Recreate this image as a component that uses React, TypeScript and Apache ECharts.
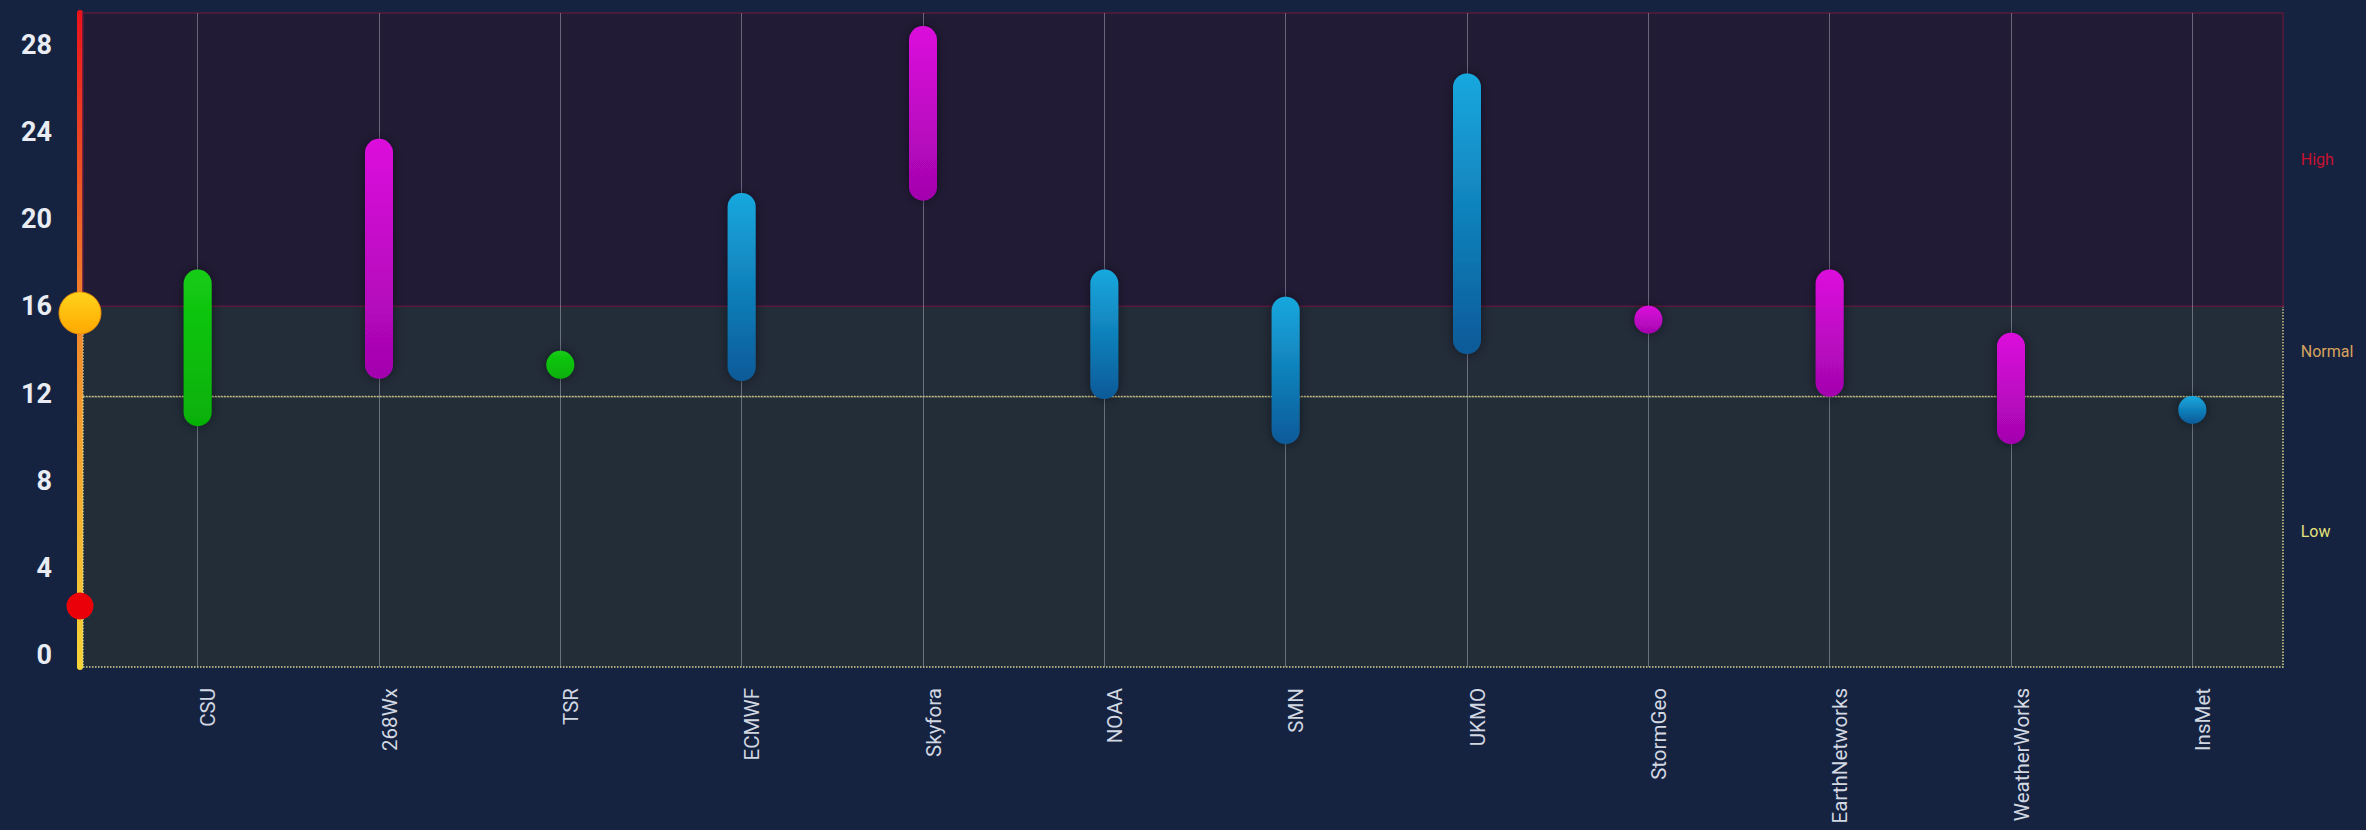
import React, { useEffect, useRef } from "react";
import * as echarts from "echarts";

// ---- data ----
const categories = [
  "CSU", "268Wx", "TSR", "ECMWF", "Skyfora", "NOAA",
  "SMN", "UKMO", "StormGeo", "EarthNetworks", "WeatherWorks", "InsMet",
];
const lowValues = [11.3, 13.4, 13.4, 13.3, 21.3, 12.5, 10.5, 14.5, 15.4, 12.6, 10.5, 11.4];
const highValues = [17.0, 22.8, 13.4, 20.4, 27.8, 17.0, 15.8, 25.7, 15.4, 17.0, 14.2, 11.4];
const sourceGroups = [
  "green", "magenta", "green", "blue", "magenta", "blue",
  "blue", "blue", "magenta", "magenta", "magenta", "blue",
];
const indicatorValues = [15.7, 2.7]; // yellow (current), red (prior)
const bandNames = ["Low", "Normal", "High"];
const bandFrom = [0, 12, 16];
const bandTo = [12, 16, 29];
const yMin = 0;
const yMax = 29;
const tickMin = 0;
const tickMax = 28;
const tickStep = 4;

// ---- styles ----
const groupColors: Record<string, [string, string]> = {
  green: ["#14cc14", "#06b006"],
  magenta: ["#dc0cdc", "#a305ae"],
  blue: ["#17a8de", "#0a5a98"],
};
const bandFill = ["#222d38", "#232c39", "#221b36"];
const bandBorder = ["#d6d68e", "#c9bf86", "#5a1a3c"];
const bandBorderType = ["dotted", "dotted", "solid"];
const bandLabelColor = ["#e2e27a", "#d6a35e", "#c8102e"];

export default function App() {
  const ref = useRef<HTMLDivElement>(null);

  useEffect(() => {
    if (!ref.current) return;
    const chart = echarts.init(ref.current, undefined, { renderer: "svg" });

    const barData = categories.map((c, i) => [i, lowValues[i], highValues[i]]);

    const option: any = {
      animation: false,
      backgroundColor: "#162340",
      grid: [
        { left: 107, right: 83, top: 13, bottom: 163, containLabel: false },
        { left: 60, width: 40, top: 13, bottom: 163, containLabel: false },
        { left: 80, right: 83, top: 45, bottom: 175, containLabel: false },
      ],
      xAxis: [
        {
          type: "category",
          gridIndex: 0,
          data: categories,
          boundaryGap: true,
          axisLine: { show: false },
          axisTick: { show: false },
          splitLine: { show: false },
          axisLabel: {
            rotate: 90,
            interval: 0,
            margin: 21,
            fontSize: 20.5,
            verticalAlign: "top",
            color: "#d2d8e2",
            fontFamily: "Roboto",
          },
        },
        { type: "category", gridIndex: 1, data: ["now"], show: false },
        { type: "value", gridIndex: 2, show: false },
      ],
      yAxis: [
        {
          type: "value",
          gridIndex: 0,
          min: yMin,
          max: yMax,
          offset: 27,
          axisLine: {
            show: true,
            lineStyle: {
              width: 6,
              color: new echarts.graphic.LinearGradient(
                0, 13, 0, 667,
                [
                  { offset: 0, color: "#e8141c" },
                  { offset: 0.45, color: "#f0842c" },
                  { offset: 1, color: "#f6d436" },
                ],
                true
              ),
            },
          },
          axisTick: { show: false },
          axisLabel: { show: false },
          splitLine: { show: false },
        },
        { type: "value", gridIndex: 1, min: yMin, max: yMax, show: false },
        {
          type: "value",
          gridIndex: 2,
          min: tickMin,
          max: tickMax,
          interval: tickStep,
          axisLine: { show: false },
          axisTick: { show: false },
          splitLine: { show: false },
          axisLabel: {
            margin: 28,
            fontSize: 27,
            fontWeight: "bold",
            color: "#e9edf3",
            fontFamily: "Roboto",
          },
        },
      ],
      series: [
        {
          type: "custom",
          xAxisIndex: 0,
          yAxisIndex: 0,
          z: 3,
          encode: { x: 0, y: [1, 2] },
          data: barData,
          renderItem: (params: any, api: any) => {
            const idx = api.value(0);
            const lowPt = api.coord([idx, api.value(1)]);
            const highPt = api.coord([idx, api.value(2)]);
            const w = 28;
            const r = w / 2;
            const cols = groupColors[sourceGroups[params.dataIndex]];
            return {
              type: "rect",
              shape: {
                x: lowPt[0] - r,
                y: highPt[1] - r,
                width: w,
                height: lowPt[1] - highPt[1] + w,
                r: r,
              },
              style: {
                fill: new echarts.graphic.LinearGradient(0, 0, 0, 1, [
                  { offset: 0, color: cols[0] },
                  { offset: 1, color: cols[1] },
                ]),
                shadowBlur: 12,
                shadowColor: "rgba(0,0,0,0.45)",
              },
            };
          },
          markArea: {
            silent: true,
            z: 1,
            data: bandNames.map((name, i) => [
              {
                name,
                x: 83,
                yAxis: bandFrom[i],
                itemStyle: {
                  color: bandFill[i],
                  borderColor: bandBorder[i],
                  borderWidth: 1.5,
                  borderType: bandBorderType[i],
                },
                label: {
                  show: true,
                  position: "right",
                  distance: 17,
                  fontSize: 16,
                  fontFamily: "Roboto",
                  color: bandLabelColor[i],
                },
              },
              { yAxis: bandTo[i] },
            ]),
          },
          markLine: {
            silent: true,
            z: 2,
            symbol: ["none", "none"],
            label: { show: false },
            lineStyle: { color: "rgba(190,196,206,0.45)", width: 1, type: "solid" },
            data: categories.map((c) => ({ xAxis: c })),
          },
        },
        {
          type: "scatter",
          xAxisIndex: 1,
          yAxisIndex: 1,
          z: 10,
          data: [
            {
              value: [0, indicatorValues[0]],
              symbolSize: 42,
              itemStyle: {
                opacity: 1,
                color: new echarts.graphic.LinearGradient(0, 0, 0, 1, [
                  { offset: 0, color: "#ffd41c" },
                  { offset: 1, color: "#ffa800" },
                ]),
                borderColor: "rgba(240,140,10,0.9)",
                borderWidth: 1,
              },
            },
            {
              value: [0, indicatorValues[1]],
              symbolSize: 27,
              itemStyle: { opacity: 1, color: "#ea0008" },
            },
          ],
        },
      ],
    };

    chart.setOption(option);
    return () => chart.dispose();
  }, []);

  return (
    <div
      ref={ref}
      style={{ position: "absolute", left: 0, top: 0, width: 2366, height: 830 }}
    />
  );
}
